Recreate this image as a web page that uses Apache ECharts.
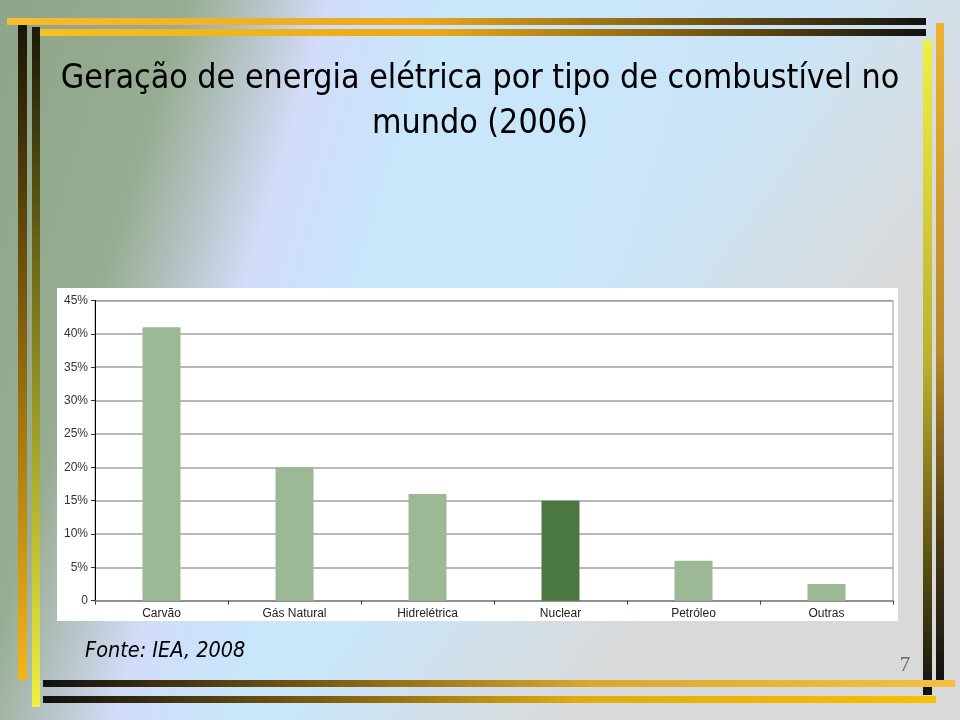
<!DOCTYPE html>
<html>
<head>
<meta charset="utf-8">
<script src="https://cdn.jsdelivr.net/npm/echarts@6/dist/echarts.min.js"></script>
<style>
html,body{margin:0;padding:0;background:#fff;}
#chart{width:960px;height:720px;}
</style>
</head>
<body>
<div id="chart"></div>
<script>
const categories = ['Carvão', 'Gás Natural', 'Hidrelétrica', 'Nuclear', 'Petróleo', 'Outras'];
const shares = [41, 20, 16, 15, 6, 2.5];
const highlighted = 'Nuclear';
const titleText = 'Geração de energia elétrica por tipo de combustível no\nmundo (2006)';
const sourceText = 'Fonte: IEA, 2008';
const pageNumber = '7';

const lightBar = '#9db894';
const darkBar = '#4a7840';

function lg(x, y, x2, y2, stops, global) {
  return new echarts.graphic.LinearGradient(x, y, x2, y2, stops.map(s => ({offset: s[0], color: s[1]})), !!global);
}

const chart = echarts.init(document.getElementById('chart'));

const frame = [
  // background base (green -> lavender -> light blue)
  {type: 'rect', z: -21, silent: true, shape: {x: 0, y: 0, width: 960, height: 720},
   style: {fill: lg(0, 0, 1079, 324, [[0, '#8fa58a'], [0.16, '#97ad92'], [0.22, '#b4c3c4'], [0.28, '#d2dcf8'], [0.38, '#c9e6fb'], [0.7, '#cbe5f7'], [1, '#d0e2ee']], true)}},
  // gray overlay toward bottom-right
  {type: 'rect', z: -20, silent: true, shape: {x: 0, y: 0, width: 960, height: 720},
   style: {fill: lg(0, 0, 1, 1, [[0, 'rgba(217,217,217,0)'], [0.55, 'rgba(217,217,217,0)'], [0.75, 'rgba(217,217,217,1)'], [1, 'rgba(217,217,217,1)']])}},
  // white chart panel
  {type: 'rect', z: -10, silent: true, shape: {x: 57, y: 288, width: 841, height: 333}, style: {fill: '#ffffff'}},
  // left bars
  {type: 'rect', z: 100, silent: true, shape: {x: 18, y: 25, width: 9, height: 655},
   style: {fill: lg(0, 0, 0, 1, [[0, '#1a1505'], [0.35, '#6b4e0a'], [1, '#f5b418']])}},
  {type: 'rect', z: 100, silent: true, shape: {x: 32, y: 27, width: 8, height: 680},
   style: {fill: lg(0, 0, 0, 1, [[0, '#1a1a08'], [0.35, '#6f6a18'], [1, '#f0f040']])}},
  // top lines
  {type: 'rect', z: 101, silent: true, shape: {x: 7, y: 18, width: 919, height: 7},
   style: {fill: lg(0, 0, 1, 0, [[0, '#f7bc30'], [0.45, '#eaa820'], [0.7, '#8a6510'], [1, '#111']])}},
  {type: 'rect', z: 101, silent: true, shape: {x: 40, y: 29, width: 886, height: 7},
   style: {fill: lg(0, 0, 1, 0, [[0, '#f8c020'], [0.45, '#e9a818'], [0.7, '#8a6510'], [1, '#111']])}},
  // right bars
  {type: 'rect', z: 100, silent: true, shape: {x: 923, y: 40, width: 9, height: 655},
   style: {fill: lg(0, 0, 0, 1, [[0, '#f0f040'], [0.5, '#b8b030'], [0.8, '#5a5010'], [1, '#111']])}},
  {type: 'rect', z: 100, silent: true, shape: {x: 936, y: 23, width: 8, height: 657},
   style: {fill: lg(0, 0, 0, 1, [[0, '#f0b030'], [0.5, '#b88a28'], [0.8, '#4a3a10'], [1, '#111']])}},
  // bottom lines
  {type: 'rect', z: 101, silent: true, shape: {x: 43, y: 680, width: 912, height: 7},
   style: {fill: lg(0, 0, 1, 0, [[0, '#111'], [0.3, '#7a5a10'], [0.6, '#d8a830'], [1, '#f5c040']])}},
  {type: 'rect', z: 101, silent: true, shape: {x: 43, y: 696, width: 893, height: 7},
   style: {fill: lg(0, 0, 1, 0, [[0, '#111'], [0.3, '#7a5a10'], [0.6, '#e0ac10'], [1, '#f8c000']])}},
  // source text
  {type: 'text', z: 102, silent: true, x: 85, y: 651,
   style: {text: sourceText, fill: '#000', font: 'italic 21.5px "DejaVu Sans Condensed", "DejaVu Sans", sans-serif', verticalAlign: 'middle', align: 'left'}},
  // page number
  {type: 'text', z: 102, silent: true, x: 905, y: 665,
   style: {text: pageNumber, fill: '#666', font: '21px "Liberation Serif", serif', verticalAlign: 'middle', align: 'center'}}
];

chart.setOption({
  animation: false,
  title: {
    text: titleText,
    left: 'center',
    top: 52,
    textStyle: {
      fontFamily: '"DejaVu Sans Condensed", "DejaVu Sans", sans-serif',
      fontSize: 33.7,
      fontWeight: 'normal',
      color: '#000',
      lineHeight: 45
    }
  },
  graphic: frame,
  grid: {
    left: 95, right: 67, top: 300.5, bottom: 119.3,
    show: true, borderColor: '#999', borderWidth: 1, backgroundColor: 'transparent'
  },
  xAxis: {
    type: 'category',
    data: categories,
    axisLine: {lineStyle: {color: '#888', width: 1.5}},
    axisTick: {show: true, length: 4, lineStyle: {color: '#444'}},
    axisLabel: {color: '#222', fontFamily: '"Liberation Sans", Arial, sans-serif', fontSize: 12, margin: 7}
  },
  yAxis: {
    type: 'value',
    min: 0, max: 45, interval: 5,
    axisLine: {show: true, lineStyle: {color: '#000', width: 1}},
    axisTick: {show: true, length: 4, lineStyle: {color: '#333'}},
    splitLine: {lineStyle: {color: '#a0a0a0', width: 1.5}},
    axisLabel: {
      color: '#333', fontFamily: '"Liberation Sans", Arial, sans-serif', fontSize: 12, margin: 7,
      formatter: v => v === 0 ? '0' : v + '%'
    }
  },
  series: [{
    type: 'bar',
    barWidth: 38,
    data: shares.map((v, i) => ({
      value: v,
      itemStyle: {color: categories[i] === highlighted ? darkBar : lightBar}
    }))
  }]
});
</script>
</body>
</html>
